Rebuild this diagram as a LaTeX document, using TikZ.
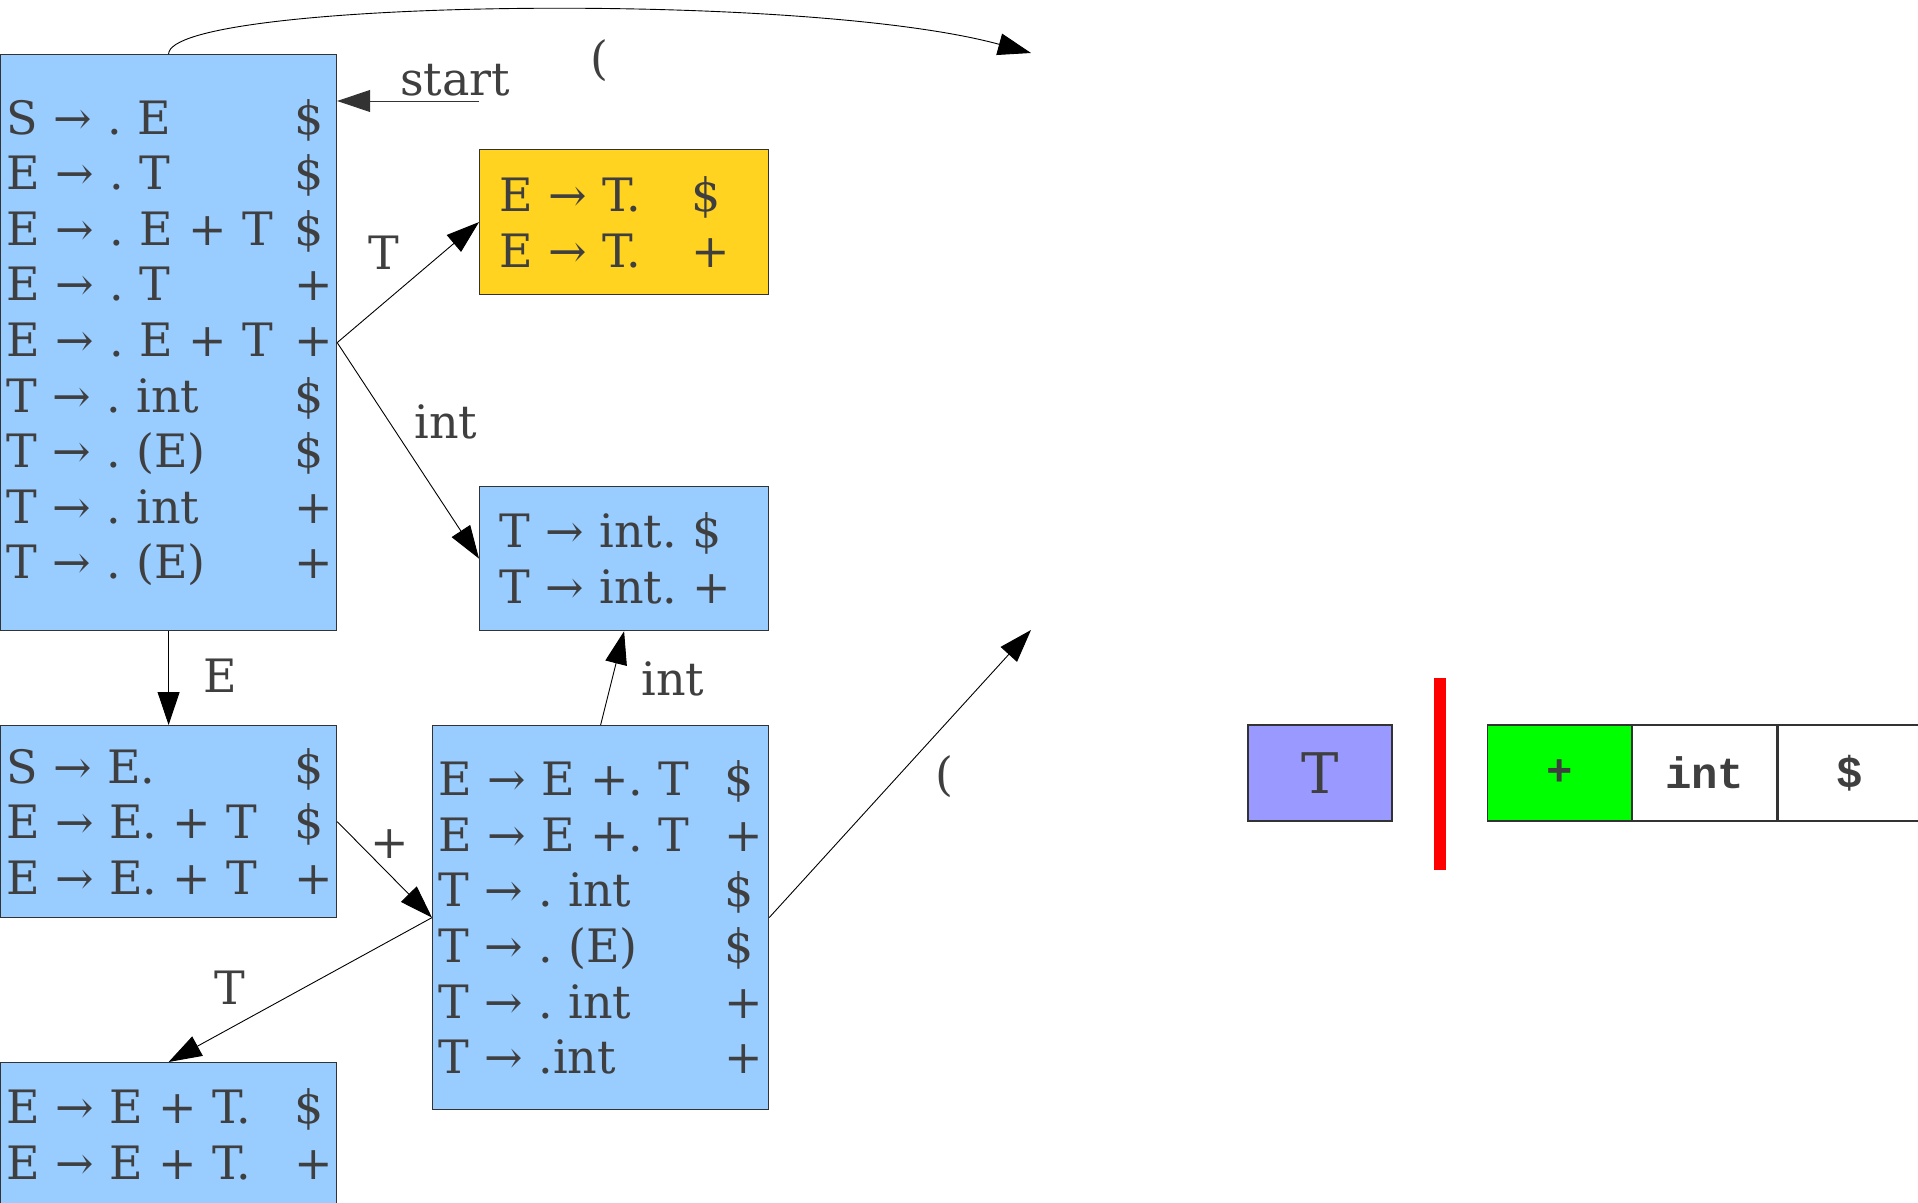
\documentclass[tikz,border=0pt]{standalone}
\usepackage{fontspec}
\setmainfont{DejaVu Serif}
\newfontfamily\tapefont{Liberation Mono}
\usetikzlibrary{arrows.meta, positioning}
\frenchspacing

\definecolor{itemblue}{HTML}{99CCFF}
\definecolor{itemyellow}{HTML}{FFD320}
\definecolor{stackpurple}{HTML}{9999FF}
\definecolor{textgray}{HTML}{3F3F3F}
\definecolor{boxgray}{HTML}{333333}

% one LR(1) item: core in a fixed-width column, then the lookahead
\newcommand{\itm}[3][144pt]{\makebox[#1][l]{#2}#3}

\begin{document}
\begin{tikzpicture}[x=0.5pt, y=-0.5pt,
  state/.style={draw=boxgray, line width=0.6pt, fill=itemblue, anchor=north west,
    inner ysep=0pt, align=left, text=textgray, font=\fontsize{23}{27.8}\selectfont},
  trans/.style={-{Triangle[length=16.5pt, width=11pt]}, line width=0.45pt},
  lbl/.style={text=textgray, font=\fontsize{23}{27.8}\selectfont},
  cell/.style={draw=boxgray, line width=0.6pt, minimum width=72pt, minimum height=48pt,
    inner sep=0pt, text=textgray, font=\tapefont\bfseries\fontsize{22}{26}\selectfont}]
\useasboundingbox (0,0) rectangle (1918,1203);
\clip (0,0) rectangle (1918,1203);

% Item sets
\node[state, inner xsep=3pt, text width=162pt, minimum height=288pt] (s0) at (0,54) {%
  \itm{S → . E}{\$}\\ \itm{E → . T}{\$}\\ \itm{E → . E + T}{\$}\\
  \itm{E → . T}{+}\\ \itm{E → . E + T}{+}\\ \itm{T → . int}{\$}\\
  \itm{T → . (E)}{\$}\\ \itm{T → . int}{+}\\ \itm{T → . (E)}{+}};
\node[state, fill=itemyellow, inner xsep=10pt, text width=124.5pt, minimum height=72.5pt] (sT) at (479,149) {%
  \itm[96pt]{E → T.}{\$}\\ \itm[96pt]{E → T.}{+}};
\node[state, inner xsep=10pt, text width=124.5pt, minimum height=72pt] (sint) at (479,486) {%
  T → int. \$\\ T → int. +};
\node[state, inner xsep=3pt, text width=162pt, minimum height=96pt] (sE) at (0,725) {%
  \itm{S → E.}{\$}\\ \itm{E → E. + T}{\$}\\ \itm{E → E. + T}{+}};
\node[state, inner xsep=3pt, text width=162pt, minimum height=192pt] (splus) at (432,725) {%
  \itm[143pt]{E → E +. T}{\$}\\ \itm[143pt]{E → E +. T}{+}\\ \itm[143pt]{T → . int}{\$}\\
  \itm[143pt]{T → . (E)}{\$}\\ \itm[143pt]{T → . int}{+}\\ \itm[143pt]{T → .int}{+}};
\node[state, inner xsep=3pt, text width=162pt, minimum height=72pt] (sET) at (0,1062) {%
  \itm{E → E + T.}{\$}\\ \itm{E → E + T.}{+}};

% Free ends
\coordinate (topend) at (1031,53);
\coordinate (parenend) at (1031,630);
\coordinate (startpt) at (479,101);

% Transitions
\draw[trans, draw=boxgray] (startpt) -- (startpt -| s0.east);
\draw[trans] (s0.north) .. controls (170,0) and (800,-10) .. (topend);
\draw[trans] (s0.east) -- (sT.west);
\draw[trans] (s0.east) -- (sint.west);
\draw[trans] (s0.south) -- (sE.north);
\draw[trans] (sE.east) -- (splus.west);
\draw[trans] (splus.west) -- (sET.north);
\draw[trans] (splus.north) -- (sint.south);
\draw[trans] (splus.east) -- (parenend);

% Labels
\node[lbl] (lstart) at (455,80) {start};
\node[lbl] (lpar1) at (599,61) {(};
\node[lbl] (lT1) at (384,253) {T};
\node[lbl] (lint1) at (446,422) {int};
\node[lbl] (lE) at (220,676) {E};
\node[lbl] (lplus) at (390,844) {+};
\node[lbl] (lT2) at (230,988) {T};
\node[lbl] (lint2) at (673,679) {int};
\node[lbl] (lpar2) at (944,777) {(};

% Stack, cursor and input
\node[draw=boxgray, line width=0.6pt, fill=stackpurple, minimum width=72pt, minimum height=48pt,
  inner sep=0pt, text=textgray, font=\fontsize{28}{32}\selectfont] (stk) at (1320,773) {T};
\draw[red, line width=6pt] (1440,678) -- (1440,870);
\node[cell, fill=green] (c1) at (1559.5,773) {+};
\node[cell, right=0pt of c1] (c2) {int};
\node[cell, right=0pt of c2] (c3) {\$};
\end{tikzpicture}
\end{document}
